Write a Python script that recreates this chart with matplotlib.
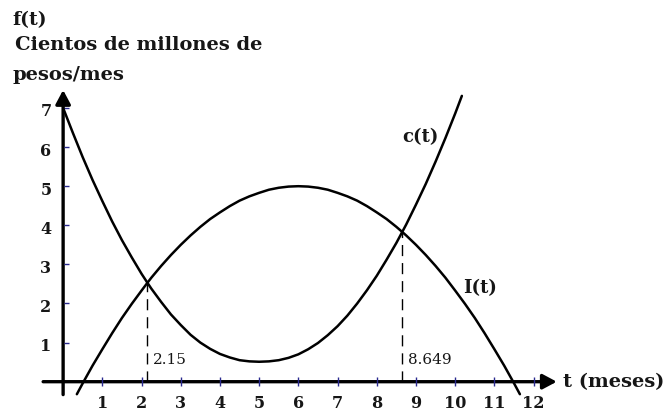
import matplotlib
matplotlib.use("Agg")
import matplotlib.pyplot as plt
from matplotlib.patches import ArrowStyle

# Ingreso I(t) (parábola) en cientos de millones de pesos/mes
t_ingreso = [0.35, 0.5, 0.75, 1.0, 1.25, 1.5, 1.75, 2.0, 2.15, 2.25, 2.5, 2.75,
             3.0, 3.25, 3.5, 3.75, 4.0, 4.25, 4.5, 4.75, 5.0, 5.25, 5.5, 5.75,
             6.0, 6.25, 6.5, 6.75, 7.0, 7.25, 7.5, 7.75, 8.0, 8.25, 8.5, 8.649,
             8.75, 9.0, 9.25, 9.5, 9.75, 10.0, 10.25, 10.5, 10.75, 11.0, 11.25,
             11.5, 11.65]
ingreso = [-0.32, -0.04, 0.41, 0.83, 1.24, 1.63, 1.99, 2.33, 2.53, 2.66, 2.96,
           3.24, 3.50, 3.74, 3.96, 4.16, 4.33, 4.49, 4.63, 4.74, 4.83, 4.91,
           4.96, 4.99, 5.00, 4.99, 4.96, 4.91, 4.83, 4.74, 4.63, 4.49, 4.33,
           4.16, 3.96, 3.83, 3.74, 3.50, 3.24, 2.96, 2.66, 2.33, 1.99, 1.63,
           1.24, 0.83, 0.41, -0.04, -0.32]

# Costo c(t)
t_costo = [0.0, 0.25, 0.5, 0.75, 1.0, 1.25, 1.5, 1.75, 2.0, 2.15, 2.25, 2.5,
           2.75, 3.0, 3.25, 3.5, 3.75, 4.0, 4.25, 4.5, 4.75, 5.0, 5.25, 5.5,
           5.75, 6.0, 6.25, 6.5, 6.75, 7.0, 7.25, 7.5, 7.75, 8.0, 8.25, 8.5,
           8.649, 8.75, 9.0, 9.25, 9.5, 9.75, 10.0, 10.17]
costo = [7.00, 6.36, 5.74, 5.16, 4.62, 4.10, 3.62, 3.18, 2.76, 2.53, 2.38,
         2.04, 1.72, 1.45, 1.20, 1.00, 0.84, 0.71, 0.62, 0.55, 0.52, 0.51,
         0.52, 0.55, 0.61, 0.70, 0.83, 0.99, 1.19, 1.42, 1.69, 2.00, 2.34,
         2.71, 3.12, 3.55, 3.83, 4.02, 4.53, 5.06, 5.63, 6.23, 6.86, 7.31]

# Puntos de equilibrio
cruce_t = [2.15, 8.649]
cruce_f = [2.53, 3.83]
cruce_txt = ["2.15", "8.649"]

x_ticks = list(range(1, 13))
y_ticks = list(range(1, 8))

INK = "#161616"
TICK = "#2a2a8f"
BOLD = dict(family="DejaVu Serif", weight="bold", color=INK)

fig = plt.figure(figsize=(6.63, 4.12), dpi=100)
ax = fig.add_axes([0, 0, 1, 1])
ax.set_xlim(-1.61, 15.30)
ax.set_ylim(-0.775, 9.762)
ax.axis("off")

# Ejes con flechas
arrow = ArrowStyle("-|>", head_length=0.6, head_width=0.32)
ax.annotate("", xy=(12.59, 0), xytext=(-0.51, 0),
            arrowprops=dict(arrowstyle=arrow, lw=2.4, color="black",
                            mutation_scale=14, shrinkA=0, shrinkB=0))
ax.annotate("", xy=(0, 7.46), xytext=(0, -0.33),
            arrowprops=dict(arrowstyle=arrow, lw=2.4, color="black",
                            mutation_scale=14, shrinkA=0, shrinkB=0))

# Marcas de los ejes
ax.vlines(x_ticks, -0.12, 0.12, color=TICK, lw=1.0, zorder=3)
ax.hlines(y_ticks, 0.02, 0.16, color=TICK, lw=1.0, zorder=3)

for xt in x_ticks:
    ax.text(xt, -0.68, str(xt), ha="center", va="baseline", fontsize=11.5, **BOLD)
for yt in y_ticks:
    ax.text(-0.44, yt - 0.1, str(yt), ha="center", va="center", fontsize=11.5, **BOLD)

# Curvas
ax.plot(t_ingreso, ingreso, color="black", lw=1.8, solid_joinstyle="round",
        solid_capstyle="round", zorder=4)
ax.plot(t_costo, costo, color="black", lw=1.8, solid_joinstyle="round",
        solid_capstyle="round", zorder=4)

# Líneas punteadas en los cruces
for tc, fc, lab in zip(cruce_t, cruce_f, cruce_txt):
    ax.plot([tc, tc], [0, fc], color="black", lw=1.0, dashes=(8, 5), zorder=2)
    ax.text(tc + 0.15, 0.45, lab, ha="left", va="baseline", fontsize=11,
            family="DejaVu Serif", color=INK)

# Rótulos
ax.text(-1.286, 9.12, "f(t)", ha="left", va="baseline", fontsize=13.5, **BOLD)
ax.text(-1.227, 8.48, "Cientos de millones de", ha="left", va="baseline",
        fontsize=14, **BOLD)
ax.text(-1.286, 7.72, "pesos/mes", ha="left", va="baseline", fontsize=14, **BOLD)
ax.text(12.74, -0.14, "t (meses)", ha="left", va="baseline", fontsize=14, **BOLD)
ax.text(8.64, 6.14, "c(t)", ha="left", va="baseline", fontsize=13, **BOLD)
ax.text(10.19, 2.26, "I(t)", ha="left", va="baseline", fontsize=13, **BOLD)

fig.savefig("out.png", dpi=100, facecolor="white")
